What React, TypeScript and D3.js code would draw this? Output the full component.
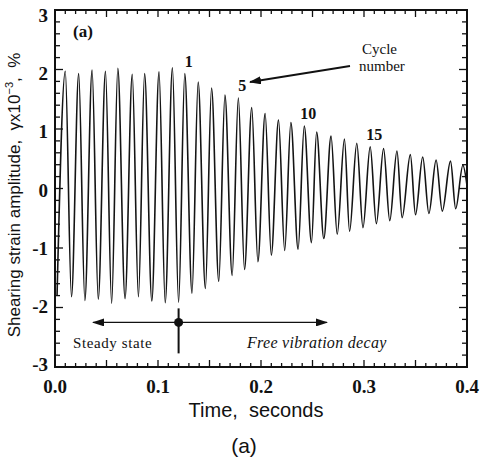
import React from 'react';
import * as d3 from 'd3';

// positive peaks and negative troughs of the strain trace
const peakTimes = [
  0.010, 0.023, 0.036, 0.049, 0.061, 0.075, 0.087, 0.101, 0.114, 0.126,
  0.139, 0.152, 0.165, 0.178, 0.191, 0.204, 0.217, 0.229, 0.242, 0.254,
  0.268, 0.281, 0.293, 0.306, 0.319, 0.332, 0.345, 0.357, 0.370, 0.384, 0.396,
];
const peakValues = [
  1.97, 1.93, 1.99, 1.97, 2.02, 1.92, 1.93, 1.96, 2.03, 1.93,
  1.79, 1.69, 1.57, 1.52, 1.36, 1.26, 1.15, 1.11, 1.05, 0.95,
  0.88, 0.83, 0.76, 0.70, 0.67, 0.63, 0.57, 0.53, 0.48, 0.46, 0.39,
];
const troughTimes = [
  0.002, 0.016, 0.029, 0.042, 0.055, 0.068, 0.081, 0.094, 0.107, 0.120,
  0.133, 0.146, 0.159, 0.172, 0.184, 0.197, 0.210, 0.223, 0.236, 0.249,
  0.261, 0.274, 0.286, 0.299, 0.312, 0.325, 0.337, 0.350, 0.363, 0.376, 0.389,
];
const troughValues = [
  -1.79, -1.82, -1.88, -1.86, -1.93, -1.85, -1.82, -1.89, -1.92, -1.91,
  -1.76, -1.68, -1.56, -1.46, -1.36, -1.23, -1.12, -1.04, -1.02, -0.91,
  -0.84, -0.77, -0.72, -0.66, -0.59, -0.54, -0.49, -0.44, -0.42, -0.38, -0.34,
];
const tailPoint = { t: 0.4, v: 0.05 };

const xTickLabels = ['0.0', '0.1', '0.2', '0.3', '0.4'];
const yTickLabels = ['3', '2', '1', '0', '-1', '-2', '-3'];

// cycle annotations: cycle number -> index in peak arrays
const cycleLabels = [
  { label: '1', peak: 9 },
  { label: '5', peak: 13 },
  { label: '10', peak: 18 },
  { label: '15', peak: 23 },
];
const transitionPoint = { t: 0.12, v: -2.25 };

const W = 482;
const H = 460;
const left = 55, right = 467, top = 10, bottom = 367;

const App = () => {
  const x = d3.scaleLinear().domain([0, 0.4]).range([left, right]);
  const y = d3.scaleLinear().domain([-3, 3]).range([bottom, top]);

  const pts: { t: number; v: number }[] = [];
  troughTimes.forEach((t, i) => {
    pts.push({ t, v: troughValues[i] });
    pts.push({ t: peakTimes[i], v: peakValues[i] });
  });
  pts.push(tailPoint);

  const line = d3.line<{ t: number; v: number }>()
    .x(d => x(d.t))
    .y(d => y(d.v))
    .curve(d3.curveMonotoneX);

  const xMinor = d3.range(0, 41).map(i => i / 100);
  const yMinor = d3.range(0, 31).map(i => -3 + i * 0.2);

  const serif = "'Liberation Serif', 'DejaVu Serif', serif";
  const sans = "'Liberation Sans', Arial, sans-serif";

  const dotX = x(transitionPoint.t);
  const dotY = y(transitionPoint.v);

  return (
    <svg width={W} height={H} style={{ position: 'absolute', left: 0, top: 0, background: '#fff' }}>
      <defs>
        <marker id="ah" viewBox="0 0 12 8" refX="11" refY="4" markerWidth="12" markerHeight="8"
          markerUnits="userSpaceOnUse" orient="auto">
          <path d="M0,0 L12,4 L0,8 z" fill="#111" />
        </marker>
      </defs>

      {/* trace */}
      <path d={line(pts) || ''} fill="none" stroke="#141414" strokeWidth={1.6} />

      {/* ticks */}
      {xMinor.map((t, i) => {
        const len = i % 5 === 0 ? 7 : 4;
        return (
          <g key={'xt' + i} stroke="#111" strokeWidth={1.3}>
            <line x1={x(t)} x2={x(t)} y1={bottom} y2={bottom - len} />
            <line x1={x(t)} x2={x(t)} y1={top} y2={top + len} />
          </g>
        );
      })}
      {yMinor.map((v, i) => {
        const len = i % 5 === 0 ? 8 : 5;
        return (
          <g key={'yt' + i} stroke="#111" strokeWidth={1.3}>
            <line x1={left} x2={left + len} y1={y(v)} y2={y(v)} />
            <line x1={right} x2={right - len} y1={y(v)} y2={y(v)} />
          </g>
        );
      })}

      {/* frame */}
      <rect x={left} y={top} width={right - left} height={bottom - top} fill="none" stroke="#111" strokeWidth={2} />

      {/* tick labels */}
      {xTickLabels.map((s, i) => (
        <text key={'xl' + i} x={x(i * 0.1)} y={393} textAnchor="middle" fontFamily={serif}
          fontWeight="bold" fontSize={19} fill="#111">{s}</text>
      ))}
      {yTickLabels.map((s, i) => (
        <text key={'yl' + i} x={48} y={y(3 - i) + 12 - i * 1.3} textAnchor="end" fontFamily={serif}
          fontWeight="bold" fontSize={19} fill="#111">{s}</text>
      ))}

      {/* axis titles */}
      <text x={256} y={417} textAnchor="middle" fontFamily={sans} fontSize={20} fill="#111"
        style={{ whiteSpace: 'pre' }}>{'Time,  seconds'}</text>
      <text transform="translate(20,195) rotate(-90)" textAnchor="middle" fontFamily={sans} fontSize={17} fill="#111"
        style={{ whiteSpace: 'pre' }}>
        <tspan>{'Shearing strain amplitude,  γx10'}</tspan>
        <tspan fontSize={11} dy={-7}>{'−3'}</tspan>
        <tspan dy={7}>{',  %'}</tspan>
      </text>
      <text x={244} y={453} textAnchor="middle" fontFamily={sans} fontSize={21} fill="#111">(a)</text>

      {/* panel tag */}
      <text x={73} y={37} fontFamily={serif} fontWeight="bold" fontSize={17} fill="#111">(a)</text>

      {/* cycle numbers */}
      {cycleLabels.map(c => (
        <text key={c.label} x={x(peakTimes[c.peak]) + 4} y={y(peakValues[c.peak]) - 7}
          textAnchor="middle" fontFamily={serif} fontWeight="bold" fontSize={16} fill="#111">{c.label}</text>
      ))}
      <text x={362} y={54} fontFamily={serif} fontSize={15} fill="#111">Cycle</text>
      <text x={359} y={71} fontFamily={serif} fontSize={15} fill="#111">number</text>
      <line x1={350} y1={66} x2={250} y2={82} stroke="#111" strokeWidth={1.8} markerEnd="url(#ah)" />

      {/* steady state / free vibration */}
      <line x1={dotX} y1={dotY} x2={93} y2={dotY} stroke="#111" strokeWidth={1.4} markerEnd="url(#ah)" />
      <line x1={dotX} y1={dotY} x2={327} y2={dotY} stroke="#111" strokeWidth={1.4} markerEnd="url(#ah)" />
      <line x1={dotX} y1={dotY - 14} x2={dotX} y2={dotY + 31} stroke="#111" strokeWidth={2} />
      <circle cx={dotX} cy={dotY} r={4.5} fill="#111" />
      <text x={73} y={348} fontFamily={serif} fontSize={15} letterSpacing={0.6} fill="#111">Steady state</text>
      <text x={247} y={348} fontFamily={serif} fontStyle="italic" fontSize={16} letterSpacing={0.3} fill="#111">Free vibration decay</text>
    </svg>
  );
};

export default App;
